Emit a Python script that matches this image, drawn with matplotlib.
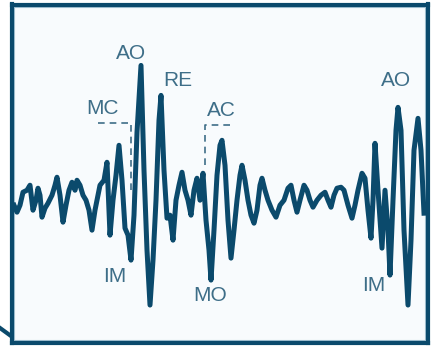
import numpy as np
import matplotlib.pyplot as plt
from matplotlib.lines import Line2D
from matplotlib.patches import Rectangle

# trace samples: time (px units from the left of the strip) and amplitude
t = [2, 5, 8, 11, 15, 18, 21, 24, 26, 28, 30, 33, 36, 40, 43, 45, 48, 51,
     54, 57, 60, 63, 65, 68, 71, 74, 77, 80, 83, 86, 88, 92, 95, 98, 101,
     104, 107, 110, 113, 116, 119, 122, 125, 129, 132, 135, 138, 141, 144,
     147, 149, 152, 155, 158, 161, 164, 167, 170, 173, 176, 179, 182, 185,
     188, 191, 194, 197, 199, 202, 205, 208, 210, 213, 216, 219, 222, 225,
     228, 230, 233, 236, 239, 242, 245, 248, 250, 253, 256, 260, 264, 268,
     272, 276, 279, 282, 285, 288, 292, 295, 298, 301, 305, 309, 313, 316,
     319, 322, 325, 329, 332, 336, 340, 343, 346, 350, 353, 356, 359, 361,
     363, 366, 370, 373, 376, 378, 381, 384, 386, 389, 392, 396, 399, 402,
     406, 409, 412]
signal = [-5, -12, -5, 8, 10, 15, -10, 0, 12, 5, -17, -8, -3, 5, 15, 23, 5,
          -22, -5, 10, 18, 10, 20, 15, 5, 0, -10, -30, -10, 5, 15, 20, 38,
          -35, 0, 25, 55, 20, -28, -35, -60, -15, 68, 135, 30, -50, -105,
          -60, 0, 80, 105, 30, -18, -15, -40, 0, 15, 28, 10, 0, -15, 10, 22,
          0, 27, -20, -50, -80, -30, 25, 55, 60, 35, -20, -58, -30, 0, 25,
          35, 20, 0, -15, -23, -10, 15, 22, 10, 0, -10, -17, -5, 0, 12, 15,
          0, -12, 0, 15, 10, 0, -7, 0, 5, 8, 0, -7, 5, 12, 13, 10, -5, -18,
          -5, 10, 27, 22, -10, -38, 0, 57, 10, -48, 10, -30, -75, 0, 70, 93,
          70, -30, -105, -40, 50, 82, 50, -13]

labels = ["AO", "RE", "MC", "AC", "IM", "MO", "IM", "AO"]
label_t = [119, 166, 91, 209, 103, 198, 362, 384]
label_s = [147, 120, 92, 90, -76, -95, -85, 120]

# dashed brackets (t, s) for the MC and AC markers
mc_bracket_t = [86, 119, 119]
mc_bracket_s = [77, 77, 10]
ac_bracket_t = [193, 193, 222]
ac_bracket_s = [35, 75, 75]

dark = '#0b4a6c'
label_col = '#3e6e88'

fig = plt.figure(figsize=(4.36, 3.47), dpi=100)
fig.patch.set_facecolor('white')
ax = fig.add_axes([12 / 436, 4.5 / 347, 415.5 / 436, 338 / 347])
ax.set_facecolor('#f8fbfd')

ax.plot(t, signal, color=dark, lw=3.6, solid_joinstyle='round')
ax.plot(mc_bracket_t, mc_bracket_s, color=label_col, lw=1.2, ls=(0, (4, 3)))
ax.plot(ac_bracket_t, ac_bracket_s, color=label_col, lw=1.2, ls=(0, (4, 3)))

for txt, x, y in zip(labels, label_t, label_s):
    ax.text(x, y, txt, color=label_col, fontsize=15, ha='center',
            va='center', family='Liberation Sans')

ax.set_xlim(0, 415.5)
ax.set_ylim(-142.5, 196)
ax.set_xticks([])
ax.set_yticks([])
for sp in ax.spines.values():
    sp.set_color(dark)
    sp.set_linewidth(3)

# thin light edge just inside the frame
ax.add_patch(Rectangle((0.006, 0.007), 0.988, 0.986, transform=ax.transAxes,
                       fill=False, ec='#a9c6d5', lw=0.8))

# stub of a connector leaving the frame at the lower left
fig.add_artist(Line2D([0, 11 / 436], [1 - 328 / 347, 1 - 336 / 347],
                      color=dark, lw=3, transform=fig.transFigure))

fig.savefig('out.png', dpi=100)
